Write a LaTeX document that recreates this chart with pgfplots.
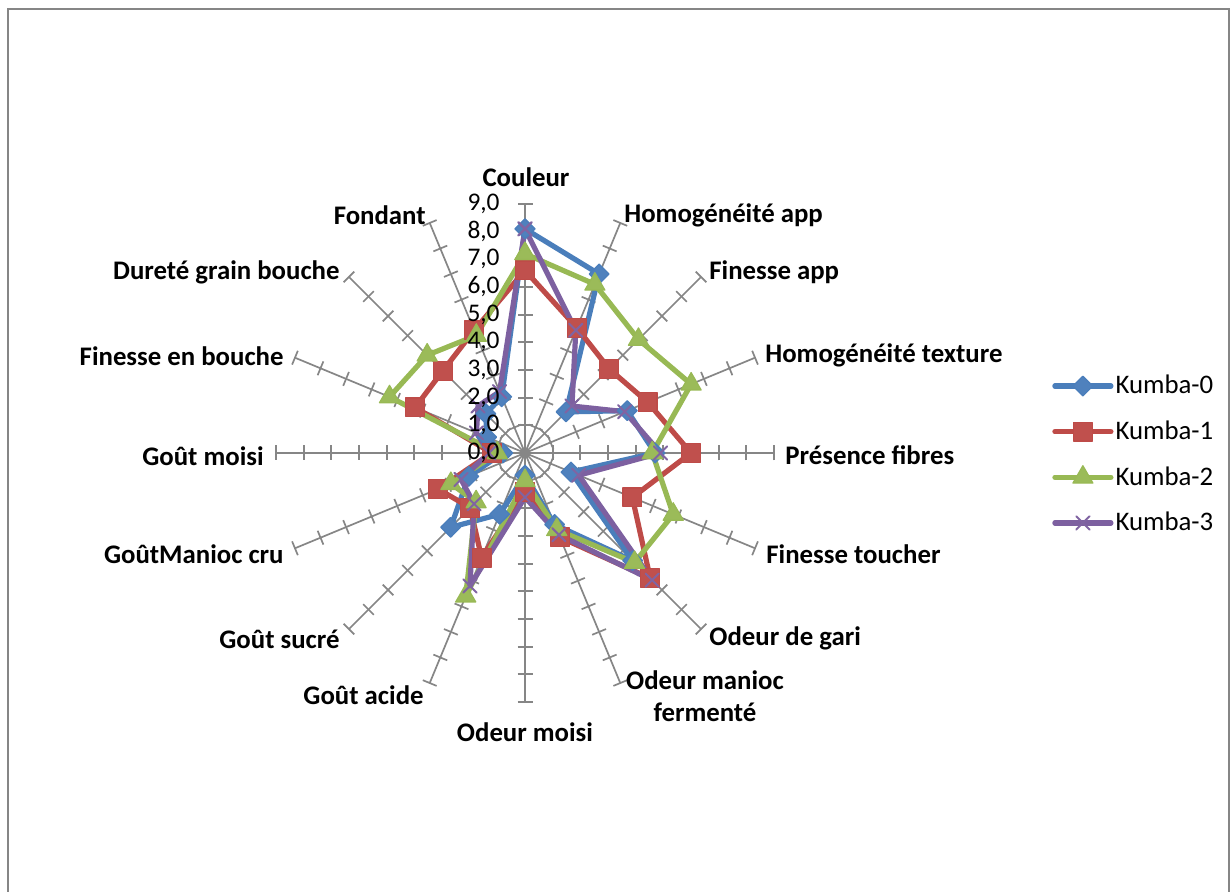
\documentclass[border=0pt]{standalone}
\usepackage{fontspec}
\setmainfont{Carlito}
\usepackage{pgfplots}
\pgfplotsset{compat=1.18}
\usepgfplotslibrary{polar}
\usetikzlibrary{backgrounds}

\definecolor{axgray}{HTML}{868686}
\definecolor{kzero}{HTML}{4A7EBB}
\definecolor{kzerof}{HTML}{4F81BD}
\definecolor{kone}{HTML}{BE4B48}
\definecolor{konef}{HTML}{C0504D}
\definecolor{ktwo}{HTML}{98B954}
\definecolor{ktwof}{HTML}{9BBB59}
\definecolor{kthree}{HTML}{7D60A0}
\definecolor{kthreef}{HTML}{8064A2}

\begin{document}
\begin{tikzpicture}[x=0.5pt,y=0.5pt]
\path[use as bounding box] (0,0) rectangle (1231,892);
\draw[axgray, line width=1pt] (8,0) -- (8,882.5) -- (1229,882.5) -- (1229,0);

\begin{polaraxis}[
    at={(262.5pt,219.5pt)}, anchor=center,
    scale only axis, width=249pt, height=249pt,
    xmin=0, xmax=360, ymin=0, ymax=9,
    xtick={0,22.5,45,67.5,90,112.5,135,157.5,180,202.5,225,247.5,270,292.5,315,337.5},
    xticklabel style={opacity=0}, ytick=\empty,
    xmajorgrids,
    major grid style={axgray, line width=0.85pt},
    major tick length=0pt,
    axis line style={draw=none},
    clip=false,
    legend style={at={(1.558,0.497)}, anchor=west, draw=none, fill=none,
        font=\fontsize{13.4}{15}\selectfont, row sep=10pt, inner sep=0pt,
        nodes={inner sep=1pt}},
    legend cell align=left,
    legend image code/.code={\draw[mark repeat=2,mark phase=2,#1]
        plot coordinates {(0pt,0pt)(14pt,0pt)(28pt,0pt)};},
    every axis plot/.append style={line width=2.6pt, line join=round, line cap=round},
]
% angle = 90 - 22.5*i, clockwise from Couleur
\addplot[kzero, mark=square*, mark options={rotate=45, solid, fill=kzerof, draw=kzero, line width=0.6pt}, mark size=3.5pt]
coordinates {(90,8.1)(67.5,7.0)(45,2.1)(22.5,4.0)(0,4.7)(337.5,1.8)(315,5.5)(292.5,2.8)
 (270,0.8)(247.5,2.4)(225,3.8)(202.5,2.2)(180,0.8)(157.5,1.5)(135,2.0)(112.5,2.2)(90,8.1)};
\addlegendentry{Kumba-0}
\addplot[kone, mark=square*, mark options={solid, fill=konef, draw=kone, line width=0.6pt}, mark size=4.7pt]
coordinates {(90,6.6)(67.5,4.9)(45,4.3)(22.5,4.8)(0,6.0)(337.5,4.2)(315,6.4)(292.5,3.3)
 (270,1.4)(247.5,4.1)(225,2.8)(202.5,3.4)(180,1.2)(157.5,4.3)(135,4.2)(112.5,4.8)(90,6.6)};
\addlegendentry{Kumba-1}
\addplot[ktwo, mark=triangle*, mark options={solid, fill=ktwof, draw=ktwo, line width=0.6pt}, mark size=5.8pt]
coordinates {(90,7.2)(67.5,6.6)(45,5.8)(22.5,6.5)(0,4.6)(337.5,5.8)(315,5.6)(292.5,3.0)
 (270,1.0)(247.5,5.6)(225,2.5)(202.5,2.9)(180,1.0)(157.5,5.3)(135,5.0)(112.5,4.6)(90,7.2)};
\addlegendentry{Kumba-2}
\addplot[kthree, mark=x, mark options={solid, draw=kthreef, line width=1pt}, mark size=4.7pt]
coordinates {(90,8.1)(67.5,4.8)(45,2.4)(22.5,3.9)(0,4.9)(337.5,2.1)(315,6.5)(292.5,3.2)
 (270,1.6)(247.5,5.2)(225,2.6)(202.5,2.5)(180,1.3)(157.5,1.9)(135,2.4)(112.5,2.4)(90,8.1)};
\addlegendentry{Kumba-3}
\end{polaraxis}

% cross ticks on every spoke
\begin{scope}[on background layer]
\foreach \a in {0,22.5,45,67.5,90,112.5,135,157.5,180,202.5,225,247.5,270,292.5,315,337.5}{
  \foreach \r in {1,...,9}{
    \draw[axgray, line width=0.85pt, shift={(525,439)}, rotate=\a]
      ({\r*27.6667},-7.5) -- ({\r*27.6667},7.5);
  }
}
\end{scope}

% radial value labels
\foreach \k in {0,...,9}{
  \node[anchor=east, inner sep=0pt, font=\fontsize{12.7}{14}\selectfont]
    at (500,{439+27.6667*\k}) {\k,0};
}

% category labels
\begin{scope}[every node/.style={inner sep=0pt, font=\fontsize{13.4}{16}\selectfont\bfseries}]
\node[anchor=center] at (526,715) {Couleur};
\node[anchor=west] at (624,677) {Homogénéité app};
\node[anchor=west] at (709,620) {Finesse app};
\node[anchor=west] at (765,537) {Homogénéité texture};
\node[anchor=west] at (785,437) {Présence fibres};
\node[anchor=west] at (766,338) {Finesse toucher};
\node[anchor=west] at (709,254) {Odeur de gari};
\node[anchor=center, align=center] at (705,196) {Odeur manioc\\fermenté};
\node[anchor=center] at (525,160) {Odeur moisi};
\node[anchor=east] at (424,197) {Goût acide};
\node[anchor=east] at (340,253) {Goût sucré};
\node[anchor=east] at (284,338) {GoûtManioc cru};
\node[anchor=east] at (264,436) {Goût moisi};
\node[anchor=east] at (284,536) {Finesse en bouche};
\node[anchor=east] at (340,620) {Dureté grain bouche};
\node[anchor=east] at (426,677) {Fondant};
\end{scope}
\end{tikzpicture}
\end{document}
